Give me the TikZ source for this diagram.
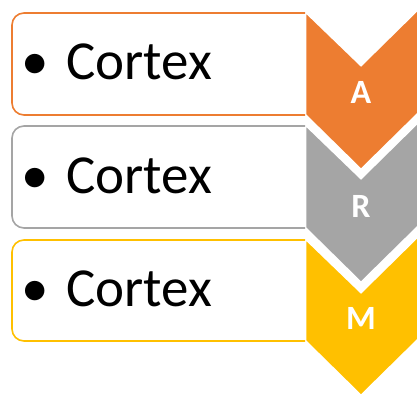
\documentclass[tikz,border=0pt]{standalone}
\usepackage{fontspec}
\setmainfont{Carlito}
\definecolor{corange}{HTML}{ED7D31}
\definecolor{cgray}{HTML}{A5A5A5}
\definecolor{cyellow}{HTML}{FFC000}
\begin{document}
\begin{tikzpicture}[x=1pt,y=-1pt,
  itembox/.style={draw=#1,line width=1.6pt,fill=white,rounded corners=12pt},
  itemtext/.style={anchor=base west,inner sep=0pt,font=\fontsize{55}{60}\selectfont},
  chev/.style={fill=#1,draw=white,line width=2.5pt,line join=miter},
  letter/.style={text=white,font=\fontsize{34}{36}\selectfont\bfseries}]
\useasboundingbox (0,0) rectangle (417,396);
% chevrons
\path[chev=corange] (305,11) -- (361,65) -- (420,7) -- (420,112) -- (361,170) -- (305,115) -- cycle;
\path[chev=cgray] (305,124) -- (361,178) -- (420,120) -- (420,225) -- (361,283) -- (305,228) -- cycle;
\path[chev=cyellow] (305,238) -- (361,292) -- (420,234) -- (420,338) -- (361,396) -- (305,341) -- cycle;
% boxes
\begin{scope}
\clip (0,0) rectangle (305,396);
\draw[itembox=corange] (12,13) rectangle (340,115);
\draw[itembox=cgray] (12,126) rectangle (340,228);
\draw[itembox=cyellow] (12,240) rectangle (340,341);
\end{scope}
\node[itemtext] (t1) at (21,79) {\makebox[45pt][l]{•}Cortex};
\node[itemtext] (t2) at (21,193) {\makebox[45pt][l]{•}Cortex};
\node[itemtext] (t3) at (21,306) {\makebox[45pt][l]{•}Cortex};
\node[letter] (a) at (361,92) {A};
\node[letter] (r) at (361,206) {R};
\node[letter] (m) at (361,318) {M};
\end{tikzpicture}
\end{document}
